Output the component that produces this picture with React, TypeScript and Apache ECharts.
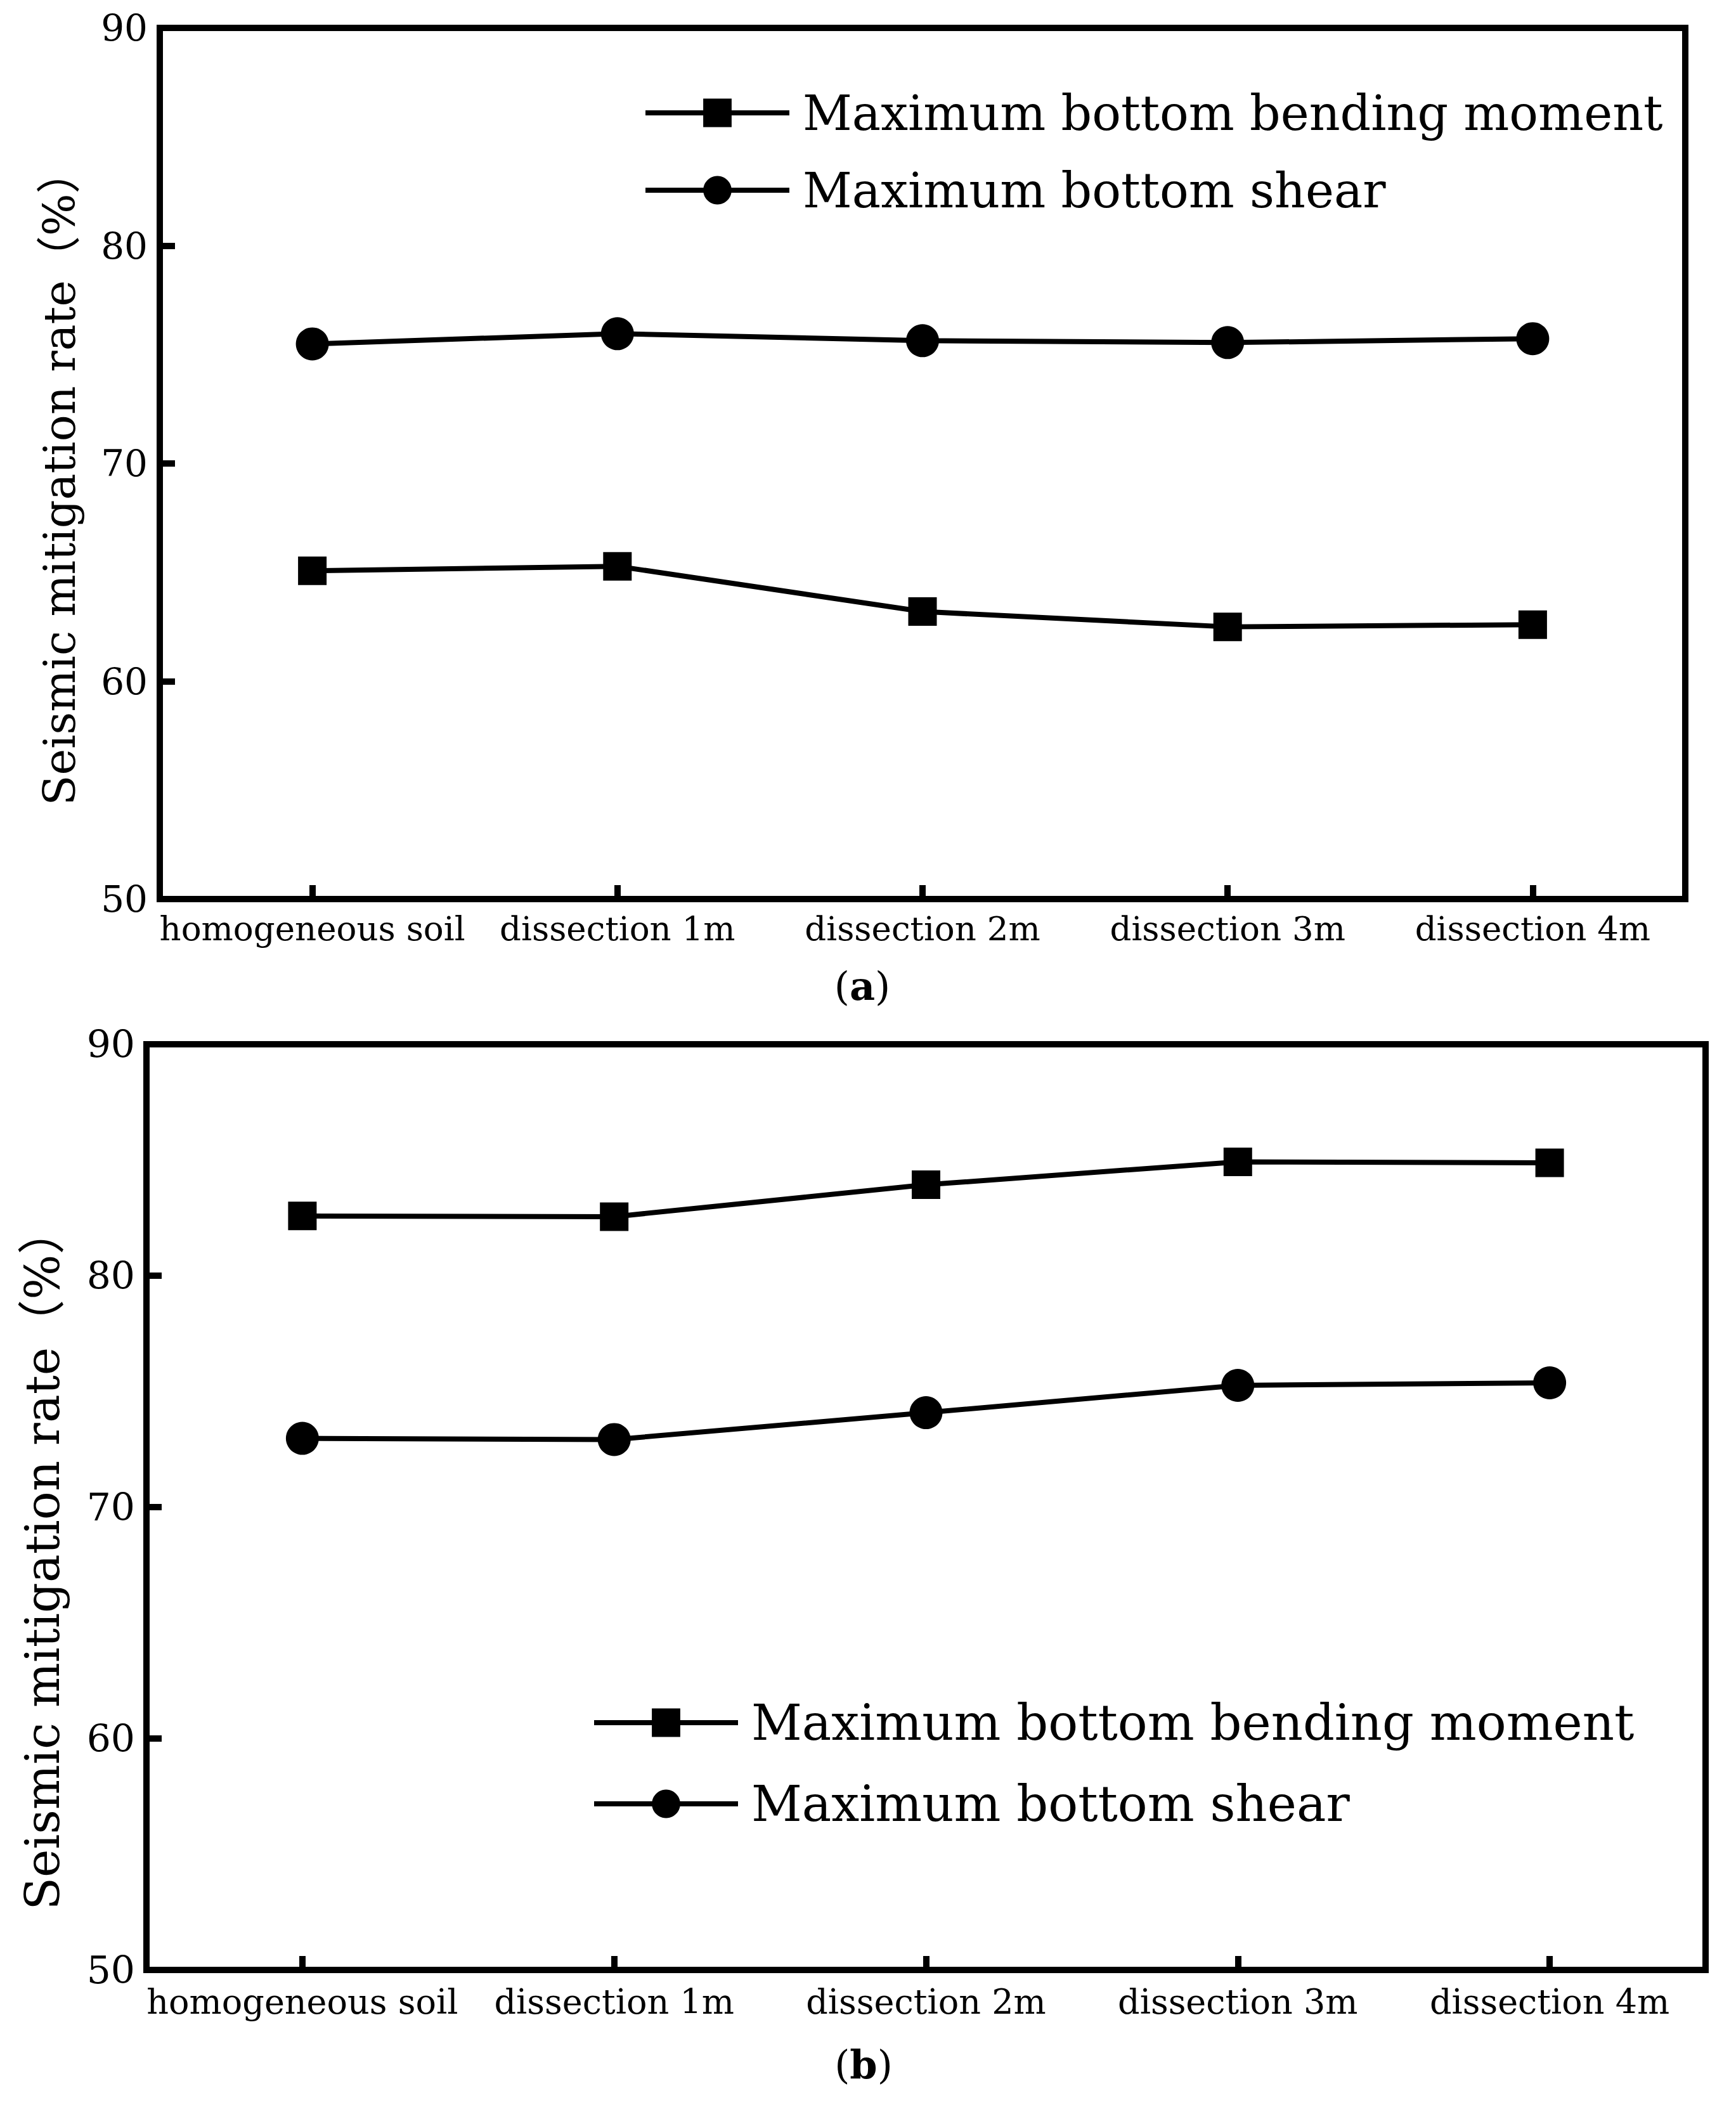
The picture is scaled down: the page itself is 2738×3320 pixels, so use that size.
import React, { useEffect, useRef } from "react";
import * as echarts from "echarts";

const categories = [
  "homogeneous soil",
  "dissection 1m",
  "dissection 2m",
  "dissection 3m",
  "dissection 4m",
];
const seriesNames = ["Maximum bottom bending moment", "Maximum bottom shear"];
const momentA = [65.07, 65.28, 63.2, 62.5, 62.6];
const shearA = [75.49, 75.96, 75.64, 75.55, 75.73];
const momentB = [82.58, 82.55, 83.93, 84.92, 84.88];
const shearB = [72.97, 72.92, 74.08, 75.26, 75.37];
const yTicks = [50, 60, 70, 80, 90];
const yTitle = "Seismic mitigation rate（%）";
const panelLabels = ["a", "b"];

const FONT = "'DejaVu Serif', 'Noto Sans CJK SC', serif";

export default function App() {
  const ref = useRef<HTMLDivElement>(null);
  useEffect(() => {
    document.body.style.margin = "0";
    const chart = echarts.init(ref.current!, null, { renderer: "svg" });
    const yMin = yTicks[0];
    const yMax = yTicks[yTicks.length - 1];
    const yInt = yTicks[1] - yTicks[0];

    const grids = [
      { left: 252, top: 44, width: 2406, height: 1374 },
      { left: 231, top: 1647, width: 2459, height: 1460 },
    ];
    const xFont = [53, 54];
    const xMargin = [20, 23];
    const yFont = [58, 60];
    const yMargin = [19, 18];

    const option: any = {
      animation: false,
      backgroundColor: "#fff",
      color: ["#000", "#000"],
      grid: grids.map((g) => ({
        ...g,
        show: true,
        borderColor: "#000",
        borderWidth: 10,
        backgroundColor: "transparent",
      })),
      xAxis: grids.map((_, i) => ({
        type: "category",
        gridIndex: i,
        data: categories,
        boundaryGap: true,
        axisLine: { show: false },
        axisTick: {
          show: true,
          inside: true,
          alignWithLabel: true,
          length: 22,
          lineStyle: { color: "#000", width: 10 },
        },
        axisLabel: {
          color: "#000",
          fontFamily: FONT,
          fontSize: xFont[i],
          margin: xMargin[i],
          interval: 0,
        },
        splitLine: { show: false },
      })),
      yAxis: grids.map((_, i) => ({
        type: "value",
        gridIndex: i,
        min: yMin,
        max: yMax,
        interval: yInt,
        axisLine: { show: false },
        axisTick: {
          show: true,
          inside: true,
          length: 24,
          lineStyle: { color: "#000", width: 10 },
        },
        axisLabel: {
          color: "#000",
          fontFamily: FONT,
          fontSize: yFont[i],
          margin: yMargin[i],
        },
        splitLine: { show: false },
      })),
      legend: [
        { left: 1014, top: 140, itemGap: 46, font: 76 },
        { left: 933, top: 2678, itemGap: 50, font: 78 },
      ].map((l) => ({
        left: l.left,
        top: l.top,
        orient: "vertical",
        padding: 0,
        itemWidth: 227,
        itemHeight: 56,
        itemGap: l.itemGap,
        data: seriesNames,
        selectedMode: false,
        lineStyle: { width: 8, color: "#000" },
        itemStyle: { color: "#000" },
        textStyle: {
          color: "#000",
          fontFamily: FONT,
          fontSize: l.font,
          lineHeight: 56,
          padding: [0, 0, 0, 16],
        },
      })),
      series: [
        { name: seriesNames[0], data: momentA, idx: 0, symbol: "rect", size: 45 },
        { name: seriesNames[1], data: shearA, idx: 0, symbol: "circle", size: 52 },
        { name: seriesNames[0], data: momentB, idx: 1, symbol: "rect", size: 45 },
        { name: seriesNames[1], data: shearB, idx: 1, symbol: "circle", size: 52 },
      ].map((s) => ({
        type: "line",
        name: s.name,
        xAxisIndex: s.idx,
        yAxisIndex: s.idx,
        data: s.data,
        symbol: s.symbol,
        symbolSize: s.size,
        showAllSymbol: true,
        lineStyle: { color: "#000", width: 8 },
        itemStyle: { color: "#000" },
        emphasis: { disabled: true },
      })),
      graphic: [
        {
          type: "text",
          x: 94,
          y: 753,
          rotation: Math.PI / 2,
          style: {
            text: yTitle,
            fill: "#000",
            fontFamily: FONT,
            fontSize: 70,
            align: "center",
            verticalAlign: "middle",
            textAlign: "center",
            textVerticalAlign: "middle",
          },
        },
        {
          type: "text",
          x: 67,
          y: 2458,
          rotation: Math.PI / 2,
          style: {
            text: yTitle,
            fill: "#000",
            fontFamily: FONT,
            fontSize: 75,
            align: "center",
            verticalAlign: "middle",
            textAlign: "center",
            textVerticalAlign: "middle",
          },
        },
        ...[
          { x: 1360, y: 1555, t: panelLabels[0] },
          { x: 1362, y: 3256, t: panelLabels[1] },
        ].map((p) => ({
          type: "text",
          x: p.x,
          y: p.y,
          style: {
            text: "({b|" + p.t + "})",
            fill: "#000",
            fontFamily: FONT,
            fontSize: 62,
            align: "center",
            verticalAlign: "middle",
            textAlign: "center",
            textVerticalAlign: "middle",
            rich: {
              b: { fontWeight: "bold", fontFamily: FONT, fontSize: 62, fill: "#000" },
            },
          },
        })),
      ],
    };
    chart.setOption(option);
    return () => chart.dispose();
  }, []);
  return <div ref={ref} style={{ width: 2738, height: 3320 }} />;
}
